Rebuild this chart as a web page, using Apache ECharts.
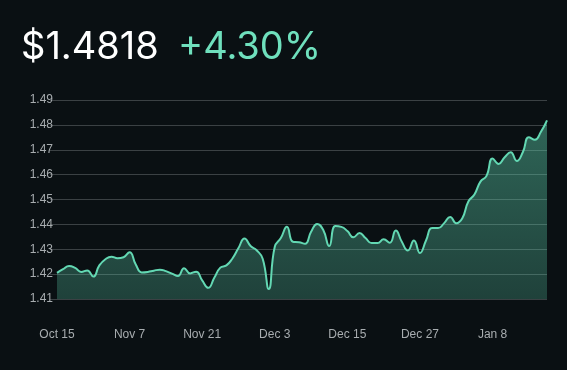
<!DOCTYPE html>
<html>
<head>
<meta charset="utf-8">
<script src="https://cdn.jsdelivr.net/npm/echarts@6/dist/echarts.min.js"></script>
<style>
html,body{margin:0;padding:0;background:#0a1013;}
#chart{width:567px;height:370px;}
</style>
</head>
<body>
<div id="chart"></div>
<script>
const priceLabel = '$1.4818';
const changeLabel = '+4.30%';

const categories = [
  'Oct 15','Oct 17','Oct 19','Oct 21','Oct 23','Oct 25','Oct 27','Oct 29','Oct 31','Nov 2','Nov 4','Nov 6',
  'Nov 7','Nov 8','Nov 9','Nov 10','Nov 11','Nov 12','Nov 13','Nov 14','Nov 15','Nov 16','Nov 17','Nov 19',
  'Nov 21','Nov 22','Nov 23','Nov 24','Nov 25','Nov 26','Nov 27','Nov 28','Nov 29','Nov 30','Dec 1','Dec 2',
  'Dec 3','Dec 4','Dec 5','Dec 6','Dec 7','Dec 8','Dec 9','Dec 10','Dec 11','Dec 12','Dec 13','Dec 14',
  'Dec 15','Dec 16','Dec 17','Dec 18','Dec 19','Dec 20','Dec 21','Dec 22','Dec 23','Dec 24','Dec 25','Dec 26',
  'Dec 27','Dec 28','Dec 29','Dec 30','Dec 31','Jan 1','Jan 2','Jan 3','Jan 4','Jan 5','Jan 6','Jan 7',
  'Jan 8','Jan 9','Jan 10','Jan 11','Jan 12','Jan 13','Jan 14','Jan 15','Jan 16','Jan 17'
];

const prices = [
  1.4205,1.4220,1.4233,1.4225,1.4209,1.4215,1.4190,1.4235,1.4260,1.4270,1.4264,1.4268,
  1.4288,1.4240,1.4207,1.4209,1.4214,1.4218,1.4212,1.4202,1.4192,1.4224,1.4203,1.4210,
  1.4175,1.4145,1.4185,1.4226,1.4235,1.4263,1.4305,1.4343,1.4313,1.4296,1.4262,1.4140,
  1.4310,1.4345,1.4390,1.4330,1.4328,1.4322,1.4370,1.4402,1.4378,1.4313,1.4393,1.4390,
  1.4373,1.4348,1.4365,1.4345,1.4325,1.4325,1.4340,1.4326,1.4375,1.4330,1.4295,1.4335,
  1.4285,1.4335,1.4385,1.4385,1.4405,1.4430,1.4405,1.4425,1.4492,1.4520,1.4572,1.4595,
  1.4665,1.4643,1.4670,1.4690,1.4655,1.4690,1.4750,1.4740,1.4772,1.4818
];

const yMin = 1.41, yMax = 1.49, yStep = 0.01;

const chart = echarts.init(document.getElementById('chart'));
chart.setOption({
  backgroundColor: '#0a1013',
  animation: false,
  graphic: [
    { type: 'text', left: 21, top: 29, style: { text: priceLabel, fill: '#ffffff', font: '400 38px "Inter", "Noto Sans", sans-serif' } },
    { type: 'text', left: 178, top: 29, style: { text: changeLabel, fill: '#6fe0bd', font: '400 38px "Inter", "Noto Sans", sans-serif' } }
  ],
  grid: { left: 57, right: 20, top: 100, bottom: 71 },
  xAxis: {
    type: 'category',
    data: categories,
    boundaryGap: false,
    axisLine: { show: false },
    axisTick: { show: false },
    axisLabel: { interval: 11, color: '#a8adb0', fontSize: 12, margin: 30, fontFamily: '"Liberation Sans", Arial, sans-serif' },
    splitLine: { show: false }
  },
  yAxis: {
    type: 'value',
    min: yMin, max: yMax, interval: yStep,
    axisLine: { show: false },
    axisTick: { show: true, length: 7, lineStyle: { color: '#3b4144' } },
    axisLabel: { color: '#a8adb0', fontSize: 12, margin: 4, fontFamily: '"Liberation Sans", Arial, sans-serif',
      formatter: v => v.toFixed(2) },
    splitLine: { lineStyle: { color: '#3b4144', width: 1 } }
  },
  series: [{
    type: 'line',
    data: prices,
    smooth: 0.5,
    showSymbol: false,
    lineStyle: { color: '#63d8b3', width: 2 },
    areaStyle: {
      color: new echarts.graphic.LinearGradient(0, 0, 0, 1, [
        { offset: 0, color: 'rgba(95,212,176,0.62)' },
        { offset: 1, color: 'rgba(95,212,176,0.36)' }
      ])
    }
  }]
});
</script>
</body>
</html>
